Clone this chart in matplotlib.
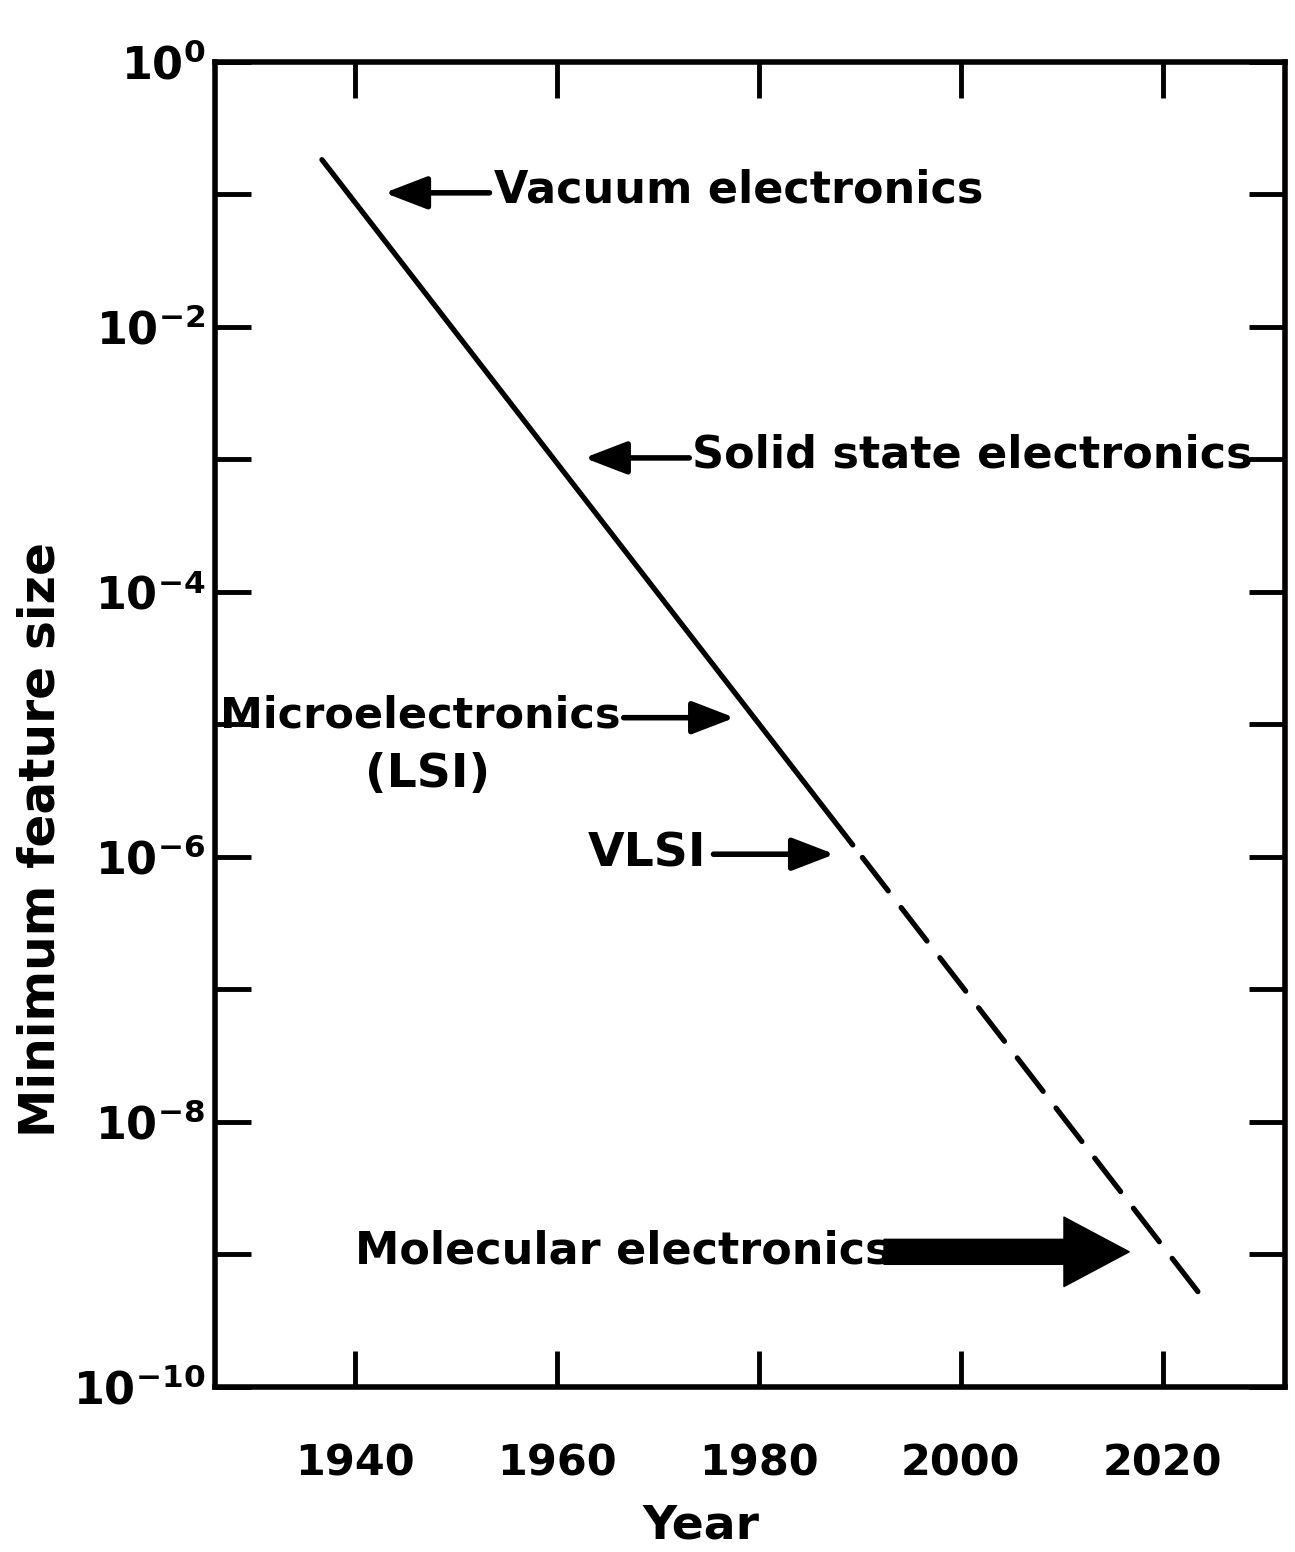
import numpy as np
import matplotlib.pyplot as plt
from matplotlib.ticker import FixedLocator, FixedFormatter

# trend of minimum feature size (measured solid part, projected dashed part)
years_solid = [1936.7, 1989.3]
size_solid = [10**-0.74, 10**-5.91]
years_proj = [1989.3, 2023.5]
size_proj = [10**-5.91, 10**-9.28]

year_ticks = [1940, 1960, 1980, 2000, 2020]
decades = list(range(0, 11))
decade_labels = ['$\\mathregular{10^{%d}}$' % (-d) if d % 2 == 0 else '' for d in decades]
decade_labels[0] = '$\\mathregular{10^{0}}$'

plt.rcParams['font.family'] = ['DejaVu Sans']
plt.rcParams['font.weight'] = 'bold'
plt.rcParams['mathtext.default'] = 'regular'

fig = plt.figure(figsize=(12.95, 15.52), dpi=100)
ax = fig.add_axes([0.166, 0.1063, 0.826, 0.854])

ax.plot(years_solid, size_solid, color='black', lw=3.8, solid_capstyle='round')
# projection starts with a gap so the dashes read as separate from the solid part
ax.plot(years_proj, size_proj, color='black', lw=3.8, linestyle=(9, (8, 4)),
        dash_capstyle='round')

ax.set_yscale('log')
ax.set_xlim(1926.1, 2032.1)
ax.set_ylim(1e-10, 1e0)

ax.xaxis.set_major_locator(FixedLocator(year_ticks))
ax.set_xticklabels([str(y) for y in year_ticks])
ax.yaxis.set_major_locator(FixedLocator([10.0**-d for d in decades]))
ax.yaxis.set_major_formatter(FixedFormatter(decade_labels))
ax.yaxis.set_minor_locator(FixedLocator([]))

ax.tick_params(axis='both', which='major', direction='in', length=26, width=3.5,
               top=True, right=True)
ax.tick_params(axis='x', labelsize=31, pad=40)
ax.tick_params(axis='y', labelsize=32, pad=7)
for lab in ax.get_xticklabels() + ax.get_yticklabels():
    lab.set_fontweight('bold')
for sp in ax.spines.values():
    sp.set_linewidth(4)

fig.text(0.031, 0.459, 'Minimum feature size', rotation=90, ha='center', va='center',
         fontsize=35, fontweight='bold')
fig.text(0.541, 0.017, 'Year', ha='center', va='center', fontsize=34, fontweight='bold')


def dec(d):
    return 10.0**-d


small = dict(arrowstyle='-|>,head_length=1.3,head_width=0.5', color='black', lw=4,
             mutation_scale=20, shrinkA=0, shrinkB=0)
txt = dict(fontsize=32, fontweight='bold', va='center')

ax.annotate('', xy=(1942.9, dec(0.99)), xytext=(1953.3, dec(0.99)), arrowprops=small)
ax.text(1953.8, dec(0.97), 'Vacuum electronics', ha='left', **txt)

ax.annotate('', xy=(1962.7, dec(2.99)), xytext=(1973.1, dec(2.99)), arrowprops=small)
ax.text(1973.4, dec(2.97), 'Solid state electronics', ha='left', **txt)

ax.text(1926.6, dec(4.93), 'Microelectronics', ha='left', **dict(txt, fontsize=31))
ax.text(1947.2, dec(5.38), '(LSI)', ha='center', **dict(txt, fontsize=34))
ax.annotate('', xy=(1977.6, dec(4.95)), xytext=(1966.6, dec(4.95)), arrowprops=small)

ax.text(1974.8, dec(5.98), 'VLSI', ha='right', **dict(txt, fontsize=34))
ax.annotate('', xy=(1987.5, dec(5.98)), xytext=(1975.5, dec(5.98)), arrowprops=small)

ax.text(1940.0, dec(8.97), 'Molecular electronics', ha='left', **txt)
ax.annotate('', xy=(2016.7, dec(8.98)), xytext=(1992.4, dec(8.98)),
            arrowprops=dict(arrowstyle='simple,head_length=4.7,head_width=5.0,tail_width=1.8',
                            color='black', mutation_scale=10, shrinkA=0, shrinkB=0))

fig.savefig('out.png', dpi=100)
